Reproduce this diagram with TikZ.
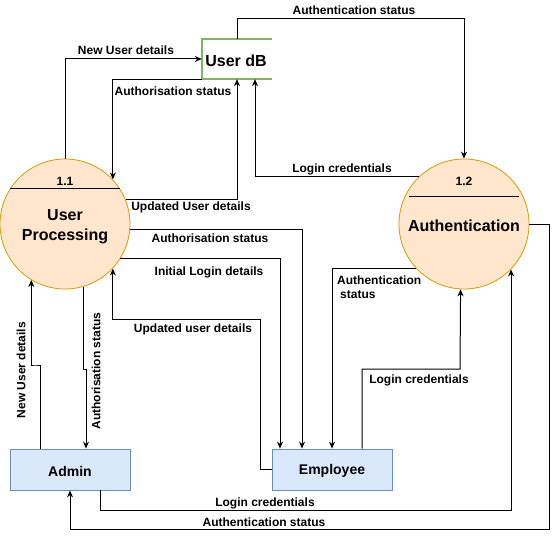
\documentclass[tikz,border=0pt]{standalone}
\usepackage{fontspec}
\setmainfont{Liberation Sans}
\usetikzlibrary{arrows.meta,calc}
\definecolor{procfill}{HTML}{FFE6CC}
\definecolor{procdraw}{HTML}{D79B00}
\definecolor{entfill}{HTML}{DAE8FC}
\definecolor{entdraw}{HTML}{6C8EBF}
\definecolor{storedraw}{HTML}{82B366}
\begin{document}
\begin{tikzpicture}[x=1bp,y=-1bp,
  proc/.style={circle, fill=procfill, draw=procdraw, line width=0.8bp, minimum size=130bp, inner sep=0pt},
  ent/.style={rectangle, fill=entfill, draw=entdraw, line width=0.8bp, minimum width=120bp, minimum height=41bp, inner sep=0pt, font=\fontsize{14bp}{16bp}\selectfont\bfseries},
  enttext/.style={font=\fontsize{14bp}{16bp}\selectfont\bfseries, inner sep=0pt},
  big/.style={font=\fontsize{16bp}{20bp}\selectfont\bfseries, inner sep=0pt, align=center},
  num/.style={font=\fontsize{12bp}{14bp}\selectfont\bfseries, inner sep=0pt},
  lbl/.style={font=\fontsize{12bp}{14bp}\selectfont\bfseries, inner sep=0pt},
  flow/.style={draw=black, line width=1bp, -{Stealth[length=7bp,width=6bp]}},
  divider/.style={draw=black, line width=1bp},
  storeline/.style={draw=storedraw, line width=2bp}
]
\useasboundingbox (0,0) rectangle (558,538);

% processes
\node[proc] (p11) at (65,224) {};
\node[proc] (p12) at (464,224) {};
\draw[divider] (10,189) coordinate (d11a) -- (120,189) coordinate (d11b);
\draw[divider] (409,197) coordinate (d12a) -- (519,197) coordinate (d12b);
\node[num] (n11) at (65,181) {1.1};
\node[num] (n12) at (464,181) {1.2};
\node[big] (t11) at (65,227) {User\\Processing};
\node[big] (t12) at (464,226) {Authentication};

% data store
\node[minimum width=70bp, minimum height=40bp, inner sep=0pt] (udb) at (237,59) {};
\node[big] (udbt) at (236,60.5) {User dB};
\draw[storeline] (udb.north east) -- (udb.north west) -- (udb.south west) -- (udb.south east);

% entities
\node[ent] (admin) at (70,469.5) {};
\node[ent] (emp) at (332,469.5) {};
\node[enttext] (admint) at (70,471) {Admin};
\node[enttext] (empt) at (332,471) {Employee};

% helper coordinates
\coordinate (c8) at (260,319);
\coordinate (c9) at (460,369);
\coordinate (c11) at (549,529);
\coordinate (c12) at (35,365);
\coordinate (c13) at (84,369);

% flows
\draw[flow] (p11.north) |- (udb.west);
\draw[flow] (udb.south west) -| (p11.43.7);
\draw[flow] (p11.22.6) -| (udb.south);
\draw[flow] (p12.133.7) -| ($(udb.south)+(18,0)$);
\draw[flow] (udb.north) -- ++(0,-20) -| (p12.north);
\draw[flow] (p11.-5.3) -| ($(emp.north)+(-30,0)$);
\draw[flow] (p11.-32.6) -| ($(emp.north)+(-52,0)$);
\draw[flow] (emp.west) -| (c8) -| (p11.-43.7);
\draw[flow] (p12.-137.4) -| (emp.north);
\draw[flow] ($(emp.north)+(30,0)$) |- (c9) -- (p12.-93.5);
\draw[flow] ($(admin.south)+(30,0)$) -- ++(0,20) -| (p12.-44.9);
\draw[flow] (p12.east) -| (c11) -| (admin.south);
\draw[flow] ($(admin.north)+(-30,0)$) |- (c12) -| (p11.-121.6);
\draw[flow] (p11.-74.8) |- (c13) -| ($(admin.north)+(16,0)$);

% labels
\node[lbl] (l1) at (126,50) {New User details};
\node[lbl] (l2) at (173,91) {Authorisation status};
\node[lbl] (l3) at (191,207) {Updated User details};
\node[lbl] (l4) at (342,169) {Login credentials};
\node[lbl] (l5) at (354,10) {Authentication status};
\node[lbl] (l6) at (210,238) {Authorisation status};
\node[lbl] (l7) at (209,272) {Initial Login details};
\node[lbl] (l8) at (193,329) {Updated user details};
\node[lbl, align=left, anchor=west] (l9) at (337,287) {Authentication\\\hspace{3bp}status};
\node[lbl] (l10) at (419,380) {Login credentials};
\node[lbl] (l11) at (265,503) {Login credentials};
\node[lbl] (l12) at (264,522) {Authentication status};
\node[lbl, rotate=90] (l13) at (21,370) {New User details};
\node[lbl, rotate=90] (l14) at (96,371) {Authorisation status};
\end{tikzpicture}
\end{document}
